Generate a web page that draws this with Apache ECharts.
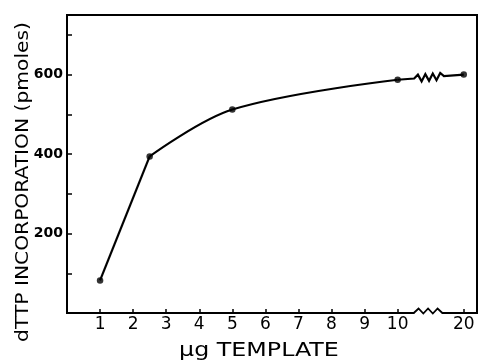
<!DOCTYPE html>
<html>
<head>
<meta charset="utf-8">
<script src="https://cdn.jsdelivr.net/npm/echarts@6/dist/echarts.min.js"></script>
<style>
  html, body { margin: 0; padding: 0; background: #fff; }
  #main { width: 481px; height: 364px; }
</style>
</head>
<body>
<div id="main"></div>
<script>
// measured points (µg template vs pmoles dTTP)
const doses = [1, 2.5, 5, 10, 20]
const incorporation = [82, 394, 512, 587, 600]

// axis ticks
const xTickDoses = [1, 2, 3, 4, 5, 6, 7, 8, 9, 10, 20]
const xTickLabels = ['1', '2', '3', '4', '5', '6', '7', '8', '9', '10', '20']
const yTicks = [100, 200, 300, 400, 500, 600, 700]
const yLabels = [200, 400, 600]

// broken x axis: 10 -> 20 squeezed into two units
const axisPos = (v) => (v <= 10 ? v : 10 + (v - 10) / 5)

const pts = doses.map((d, i) => [axisPos(d), incorporation[i]])

const chart = echarts.init(document.getElementById('main'))

function zigzagPoints(p0, p1, f0, f1, teeth, amp, lift) {
  const out = [p0]
  const lerp = (f) => [p0[0] + (p1[0] - p0[0]) * f, p0[1] + (p1[1] - p0[1]) * f]
  out.push(lerp(f0))
  const steps = teeth * 2
  for (let k = 1; k < steps; k++) {
    const q = lerp(f0 + (f1 - f0) * k / steps)
    out.push([q[0], q[1] - (lift || 0) + (k % 2 ? -amp : amp)])
  }
  out.push(lerp(f1))
  out.push(p1)
  return out
}

const option = {
  animation: false,
  grid: {
    left: 67, right: 4, top: 15, bottom: 51,
    show: true, borderColor: '#000', borderWidth: 2, backgroundColor: 'transparent'
  },
  xAxis: {
    type: 'value',
    min: 0,
    max: 12.4,
    splitLine: { show: false },
    axisLine: { show: false },
    axisTick: {
      inside: true, length: 4, customValues: xTickDoses.map(axisPos),
      lineStyle: { color: '#000', width: 1.5 }
    },
    axisLabel: {
      customValues: xTickDoses.map(axisPos),
      margin: 3,
      color: '#000',
      fontSize: 17,
      fontFamily: 'DejaVu Sans',
      formatter: (v) => {
        const i = xTickDoses.findIndex((d) => Math.abs(axisPos(d) - v) < 1e-6)
        return i < 0 ? '' : xTickLabels[i]
      }
    }
  },
  yAxis: {
    type: 'value',
    min: 0,
    max: 750,
    splitLine: { show: false },
    axisLine: { show: false },
    axisTick: {
      inside: true, length: 5, customValues: yTicks,
      lineStyle: { color: '#000', width: 1.5 }
    },
    axisLabel: {
      customValues: yLabels,
      margin: 4,
      color: '#000',
      fontSize: 14,
      fontWeight: 'bold',
      fontFamily: 'DejaVu Sans'
    }
  },
  graphic: [
    {
      type: 'text', x: 24, y: 182, rotation: Math.PI / 2, scaleX: 1.19,
      style: {
        text: 'dTTP INCORPORATION (pmoles)', fill: '#000',
        font: '17px "DejaVu Sans"', textAlign: 'center', textVerticalAlign: 'middle'
      }
    },
    {
      type: 'text', x: 259, y: 351, scaleX: 1.25,
      style: {
        text: 'µg TEMPLATE', fill: '#000',
        font: '19px "DejaVu Sans"', textAlign: 'center', textVerticalAlign: 'middle'
      }
    }
  ],
  series: [
    {
      type: 'line',
      data: pts.slice(0, 2),
      showSymbol: false,
      lineStyle: { color: '#000', width: 2.2 }
    },
    {
      type: 'line',
      data: pts.slice(1, 4),
      smooth: 0.35,
      showSymbol: false,
      lineStyle: { color: '#000', width: 2.2 }
    },
    {
      // broken segment 10 -> 20, with the zigzag on the line and on the axis
      type: 'custom',
      z: 5,
      clip: false,
      data: [[pts[3][0], pts[3][1], pts[4][0], pts[4][1]]],
      encode: { x: [0, 2], y: [1, 3] },
      renderItem: (params, api) => {
        const a = api.coord([api.value(0), api.value(1)])
        const b = api.coord([api.value(2), api.value(3)])
        const a0 = api.coord([api.value(0), 0])
        const b0 = api.coord([api.value(2), 0])
        const f0 = 0.25, f1 = 0.7
        const gx0 = a0[0] + (b0[0] - a0[0]) * f0
        const gx1 = a0[0] + (b0[0] - a0[0]) * 0.67
        return {
          type: 'group',
          children: [
            {
              type: 'rect',
              shape: { x: gx0, y: a0[1] - 2, width: gx1 - gx0, height: 4 },
              style: { fill: '#fff' }
            },
            {
              type: 'polyline',
              shape: { points: zigzagPoints([gx0 - 1, a0[1]], [gx1 + 1, a0[1]], 0.02, 0.98, 3, 2.5, 2) },
              style: { stroke: '#000', lineWidth: 1.8, fill: null }
            },
            {
              type: 'polyline',
              shape: { points: zigzagPoints(a, b, f0, f1, 4, 3.5) },
              style: { stroke: '#000', lineWidth: 2.2, fill: null }
            }
          ]
        }
      }
    },
    {
      type: 'scatter',
      z: 6,
      data: pts,
      symbolSize: 6.5,
      itemStyle: { color: '#000' }
    }
  ]
}

chart.setOption(option)
</script>
</body>
</html>
